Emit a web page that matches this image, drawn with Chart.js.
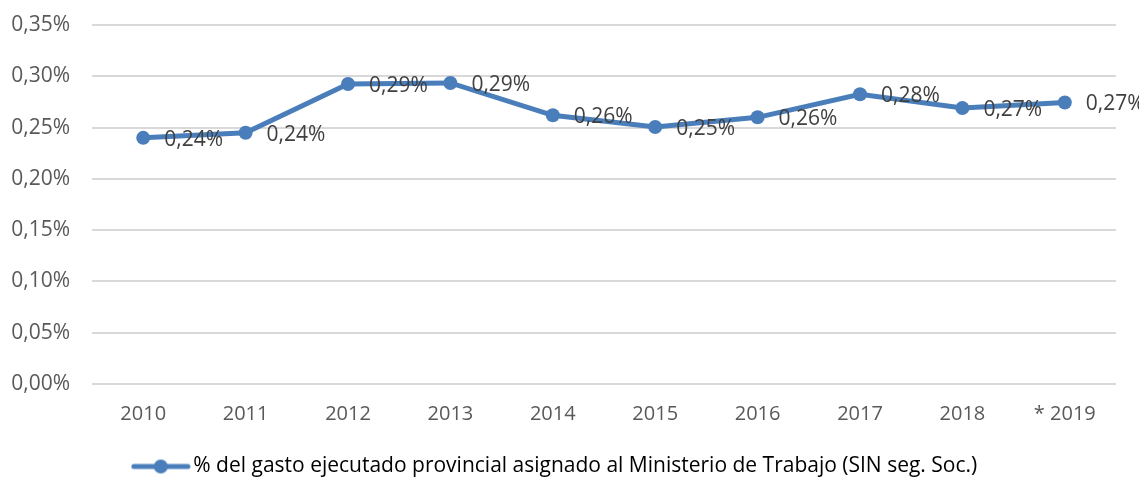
<!doctype html>
<html>
<head>
    <title>Gasto Ministerio de Trabajo</title>
    <script src="https://cdn.jsdelivr.net/npm/chart.js"></script>
    <style>
        body { margin: 0; background: #fff; }
        #wrap { width: 1139px; height: 480px; }
    </style>
</head>
<body>
    <div id="wrap"><canvas id="grafico"></canvas></div>
    <script>
    const ANOS = ['2010', '2011', '2012', '2013', '2014', '2015', '2016', '2017', '2018', '* 2019'];
    const PORCENTAJES = [0.240, 0.245, 0.2925, 0.2935, 0.262, 0.2505, 0.260, 0.2825, 0.269, 0.2745];
    const ETIQUETA_SERIE = '% del gasto ejecutado provincial asignado al Ministerio de Trabajo (SIN seg. Soc.)';
    const Y_MIN = 0;
    const Y_MAX = 0.35;
    const Y_PASO = 0.05;

    const AZUL = '#4A7EBB';
    const FUENTE = "'Open Sans', sans-serif";

    function formatoPct(v) {
        return v.toFixed(2).replace('.', ',') + '%';
    }

    // icono de la leyenda: linea con circulo
    const icono = document.createElement('canvas');
    icono.width = 60;
    icono.height = 16;
    (function () {
        const c = icono.getContext('2d');
        c.strokeStyle = AZUL;
        c.lineWidth = 5;
        c.lineCap = 'round';
        c.beginPath();
        c.moveTo(3, 8);
        c.lineTo(57, 8);
        c.stroke();
        c.fillStyle = AZUL;
        c.beginPath();
        c.arc(30, 8, 7, 0, Math.PI * 2);
        c.fill();
    })();

    // etiquetas de datos a la derecha de cada punto
    const etiquetas = {
        id: 'etiquetas',
        afterDatasetsDraw(chart) {
            const ctx = chart.ctx;
            const meta = chart.getDatasetMeta(0);
            ctx.save();
            ctx.font = '21px ' + FUENTE;
            ctx.fillStyle = '#404040';
            ctx.textAlign = 'left';
            ctx.textBaseline = 'middle';
            meta.data.forEach((p, i) => {
                ctx.fillText(formatoPct(PORCENTAJES[i]), p.x + 21, p.y + 2);
            });
            ctx.restore();
        }
    };

    new Chart(document.getElementById('grafico'), {
        type: 'line',
        data: {
            labels: ANOS,
            datasets: [{
                label: ETIQUETA_SERIE,
                data: PORCENTAJES,
                borderColor: AZUL,
                backgroundColor: AZUL,
                borderWidth: 5,
                pointRadius: 7,
                pointHoverRadius: 7,
                pointBorderWidth: 0,
                tension: 0,
                fill: false
            }]
        },
        options: {
            responsive: true,
            maintainAspectRatio: false,
            animation: false,
            layout: { padding: { top: 0, right: 23, left: 0, bottom: -7 } },
            plugins: {
                tooltip: { enabled: false },
                legend: {
                    position: 'bottom',
                    labels: {
                        usePointStyle: true,
                        pointStyleWidth: 44,
                        color: '#595959',
                        font: { family: FUENTE, size: 21 },
                        padding: 6,
                        generateLabels(chart) {
                            return [{
                                text: ETIQUETA_SERIE,
                                pointStyle: icono,
                                fillStyle: AZUL,
                                strokeStyle: AZUL,
                                lineWidth: 0,
                                datasetIndex: 0,
                                hidden: false
                            }];
                        }
                    }
                }
            },
            scales: {
                x: {
                    offset: true,
                    grid: { display: false },
                    border: { display: false },
                    afterFit(scale) { scale.height = 66; },
                    ticks: {
                        color: '#595959',
                        font: { family: FUENTE, size: 20 },
                        padding: 10,
                        maxRotation: 0
                    }
                },
                y: {
                    min: Y_MIN,
                    max: Y_MAX,
                    grid: { color: '#D9D9D9', lineWidth: 2, drawTicks: false },
                    border: { display: false },
                    afterFit(scale) {
                        scale.width = 92;
                        scale.paddingTop = 25;
                        scale.paddingBottom = 0;
                    },
                    ticks: {
                        stepSize: Y_PASO,
                        color: '#595959',
                        font: { family: FUENTE, size: 21 },
                        padding: 22,
                        callback: (v) => formatoPct(v)
                    }
                }
            }
        },
        plugins: [etiquetas]
    });
    </script>
</body>
</html>
